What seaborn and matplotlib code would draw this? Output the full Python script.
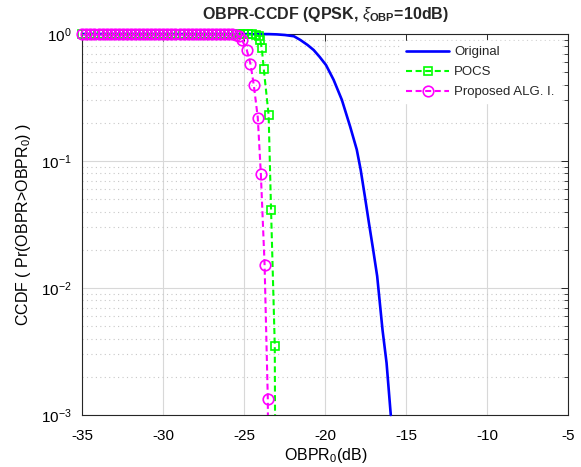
import matplotlib
matplotlib.use("Agg")
import matplotlib.pyplot as plt
import seaborn as sns
import pandas as pd
from matplotlib.lines import Line2D
from matplotlib.ticker import LogLocator, NullFormatter, FixedLocator

# ---------------- data ----------------
orig_x = [-35.0, -23.5, -23.0, -22.5, -21.94, -21.54, -21.1, -20.72, -20.35, -19.96,
          -19.49, -18.98, -18.47, -18.06, -17.82, -17.56, -17.31, -17.05, -16.8,
          -16.68, -16.47, -16.22, -15.96]
orig_y = [1.0, 0.998, 0.993, 0.982, 0.96, 0.897, 0.82, 0.748, 0.66, 0.570,
          0.436, 0.303, 0.187, 0.123, 0.0855, 0.0527, 0.0326, 0.0201, 0.0124,
          0.0087, 0.00468, 0.00257, 0.001]

pocs_x = [-35.0, -34.75, -34.5, -34.25, -34.0, -33.75, -33.5, -33.25, -33.0, -32.75,
          -32.5, -32.25, -32.0, -31.75, -31.5, -31.25, -31.0, -30.75, -30.5, -30.25,
          -30.0, -29.75, -29.5, -29.25, -29.0, -28.75, -28.5, -28.25, -28.0, -27.75,
          -27.5, -27.25, -27.0, -26.75, -26.5, -26.25, -26.0, -25.75, -25.5, -25.25,
          -25.0, -24.75, -24.5, -24.25, -24.1, -24.02, -23.92, -23.8, -23.5, -23.35,
          -23.12, -23.05]
pocs_y = [1.0, 1.0, 1.0, 1.0, 1.0, 1.0, 1.0, 1.0, 1.0, 1.0,
          1.0, 1.0, 1.0, 1.0, 1.0, 1.0, 1.0, 1.0, 1.0, 1.0,
          1.0, 1.0, 1.0, 1.0, 1.0, 1.0, 1.0, 1.0, 1.0, 1.0,
          1.0, 1.0, 1.0, 1.0, 1.0, 1.0, 1.0, 1.0, 1.0, 1.0,
          1.0, 0.999, 0.995, 0.985, 0.96, 0.90, 0.77, 0.53, 0.23, 0.041,
          0.0035, 0.00001]

prop_x = [-35.0, -34.75, -34.5, -34.25, -34.0, -33.75, -33.5, -33.25, -33.0, -32.75,
          -32.5, -32.25, -32.0, -31.75, -31.5, -31.25, -31.0, -30.75, -30.5, -30.25,
          -30.0, -29.75, -29.5, -29.25, -29.0, -28.75, -28.5, -28.25, -28.0, -27.75,
          -27.5, -27.25, -27.0, -26.75, -26.5, -26.25, -26.0, -25.75, -25.5, -25.35,
          -25.15, -24.85, -24.62, -24.42, -24.17, -23.98, -23.75, -23.55, -23.47]
prop_y = [1.0, 1.0, 1.0, 1.0, 1.0, 1.0, 1.0, 1.0, 1.0, 1.0,
          1.0, 1.0, 1.0, 1.0, 1.0, 1.0, 1.0, 1.0, 1.0, 1.0,
          1.0, 1.0, 1.0, 1.0, 1.0, 1.0, 1.0, 1.0, 1.0, 1.0,
          1.0, 1.0, 1.0, 1.0, 1.0, 1.0, 0.999, 0.995, 0.985, 0.97,
          0.90, 0.75, 0.58, 0.40, 0.22, 0.079, 0.0153, 0.00133, 0.00001]

labels = ["Original", "POCS", "Proposed ALG. I."]
x_ticks = [-35, -30, -25, -20, -15, -10, -5]

# ---------------- style ----------------
sns.set_theme(style="white")
plt.rcParams['font.family'] = ['Liberation Sans', 'DejaVu Sans']
plt.rcParams['mathtext.fontset'] = 'custom'
plt.rcParams['mathtext.rm'] = 'Liberation Sans'
plt.rcParams['mathtext.it'] = 'Liberation Sans:italic'
plt.rcParams['mathtext.bf'] = 'Liberation Sans:bold'

BLUE = (0, 0, 1)
GREEN = (0, 1, 0)
MAG = (1, 0, 1)
AXC = '#262626'

fig = plt.figure(figsize=(5.81, 4.67), dpi=100)
ax = fig.add_axes([0.1417, 0.1113, 0.8365, 0.8159])
ax.set_yscale('log')

def dash_line(xs, ys, color, lw, dashes, z):
    df = pd.DataFrame({'x': xs, 'y': ys})
    sns.lineplot(data=df, x='x', y='y', ax=ax, color=color, lw=lw,
                 sort=False, estimator=None, zorder=z)
    ln = ax.lines[-1]
    if dashes is not None:
        ln.set_dashes(dashes)
    return ln

def markers(xs, ys, color, marker, ms, z):
    pts = [(a, b) for a, b in zip(xs, ys) if b >= 1e-3]
    df = pd.DataFrame({'x': [p[0] for p in pts], 'y': [p[1] for p in pts]})
    sns.lineplot(data=df, x='x', y='y', ax=ax, color=color, sort=False,
                 estimator=None, linestyle='', marker=marker, ms=ms,
                 mfc='none', mec=color, mew=1.2, clip_on=False, zorder=z)

# Original
bl = dash_line(orig_x, orig_y, BLUE, 1.9, None, 3)
bl.set_clip_on(False)
# POCS
dash_line(pocs_x, pocs_y, GREEN, 1.5, (2.9, 1.7), 4)
markers(pocs_x, pocs_y, GREEN, 's', 6.2, 4.5)
# Proposed
dash_line(prop_x, prop_y, MAG, 1.5, (2.9, 1.7), 5)
markers(prop_x, prop_y, MAG, 'o', 7.6, 5.5)

ax.set_xlim(-35, -5)
ax.set_ylim(1e-3, 1)
ax.xaxis.set_major_locator(FixedLocator(x_ticks))
ax.yaxis.set_major_locator(LogLocator(base=10, numticks=10))
ax.yaxis.set_minor_locator(LogLocator(base=10, subs=[2, 3, 4, 5, 6, 7, 8, 9], numticks=10))
ax.yaxis.set_minor_formatter(NullFormatter())

ax.grid(True, which='major', color='#d8d8d8', lw=0.8, ls='-')
ax.grid(True, which='minor', axis='y', color='#c8c8c8', lw=0.8, ls=(0, (1, 3)))
ax.set_axisbelow(True)

for s in ax.spines.values():
    s.set_color(AXC)
    s.set_linewidth(0.8)
    s.set_zorder(2.5)

ax.tick_params(which='both', direction='in', top=True, right=True, colors=AXC,
               labelcolor='black', labelsize=11)
ax.tick_params(which='major', length=5, width=0.7)
ax.tick_params(which='minor', length=3, width=0.6)
ax.tick_params(axis='x', which='major', pad=10)
ax.tick_params(axis='y', which='major', pad=7.5)
ax.set_xticklabels([str(t) for t in x_ticks])

ax.set_xlabel('OBPR$_0$(dB)', fontsize=11.5, color='black', labelpad=2.5)
ax.set_ylabel('CCDF ( Pr(OBPR>OBPR$_0$) )', fontsize=11.5, color='black', labelpad=6)
ax.set_title(r'OBPR-CCDF (QPSK, $\xi_{\mathbf{OBP}}$=10dB)', fontsize=11.5,
             fontweight='bold', pad=11)

handles = [
    Line2D([], [], color=BLUE, lw=1.9),
    Line2D([], [], color=GREEN, lw=1.5, dashes=(2.9, 1.7), marker='s', ms=6.2,
           mfc='none', mec=GREEN, mew=1.2),
    Line2D([], [], color=MAG, lw=1.5, dashes=(2.9, 1.7), marker='o', ms=7.6,
           mfc='none', mec=MAG, mew=1.2),
]
leg = ax.legend(handles, labels, loc='upper left', bbox_to_anchor=(0.655, 0.982),
                borderaxespad=0, frameon=True, fancybox=False, fontsize=9.5,
                handlelength=3.3, handletextpad=0.35, labelspacing=0.58,
                borderpad=0.4)
leg.get_frame().set_edgecolor('white')
leg.get_frame().set_facecolor('white')
leg.get_frame().set_alpha(1)
leg.set_zorder(10)

fig.savefig('out.png', dpi=100)
